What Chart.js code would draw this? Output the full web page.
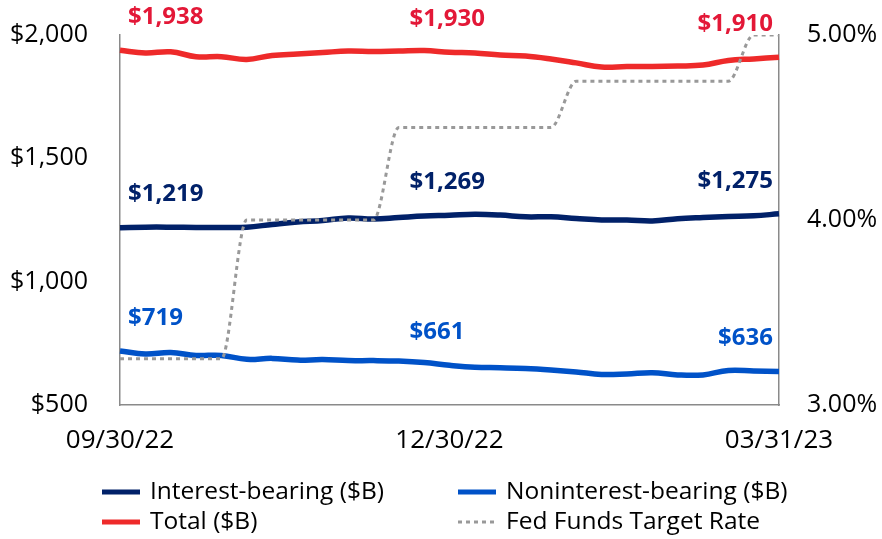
<!DOCTYPE html>
<html>
<head>
<meta charset="utf-8">
<script src="https://cdn.jsdelivr.net/npm/chart.js@4"></script>
<style>
    html, body { margin: 0; padding: 0; background: #fff; }
    #wrap { width: 882px; height: 539px; }
</style>
</head>
<body>
<div id="wrap"><canvas id="depositsChart" width="882" height="539"></canvas></div>
<script>
// Weekly observations, 09/30/22 - 03/31/23
const weeks = [
    '09/30/22', '10/07/22', '10/14/22', '10/21/22', '10/28/22', '11/04/22', '11/11/22',
    '11/18/22', '11/25/22', '12/02/22', '12/09/22', '12/16/22', '12/23/22', '12/30/22',
    '01/06/23', '01/13/23', '01/20/23', '01/27/23', '02/03/23', '02/10/23', '02/17/23',
    '02/24/23', '03/03/23', '03/10/23', '03/17/23', '03/24/23', '03/31/23'
];
const interestBearing = [
    1219, 1221, 1221, 1220, 1220, 1221, 1232, 1242, 1248, 1258, 1254, 1260, 1266, 1269,
    1273, 1270, 1263, 1263, 1256, 1250, 1250, 1246, 1255, 1260, 1264, 1267, 1275
];
const nonInterestBearing = [
    719, 707, 713, 701, 701, 685, 689, 682, 684, 680, 680, 678, 672, 661,
    653, 651, 648, 642, 634, 624, 626, 631, 622, 622, 640, 638, 636
];
const totalDeposits = [
    1938, 1927, 1932, 1912, 1912, 1901, 1917, 1923, 1929, 1935, 1933, 1935, 1937, 1930,
    1927, 1919, 1915, 1903, 1887, 1870, 1872, 1872, 1874, 1878, 1897, 1903, 1910
];
const fedFundsRate = [
    3.25, 3.25, 3.25, 3.25, 3.25, 4.00, 4.00, 4.00, 4.00, 4.00, 4.00, 4.50, 4.50, 4.50,
    4.50, 4.50, 4.50, 4.50, 4.75, 4.75, 4.75, 4.75, 4.75, 4.75, 4.75, 5.00, 5.00
];
const xTickLabels = ['09/30/22', '12/30/22', '03/31/23'];
const labelWeeks = [0, 13, 26];

const FONT = "'Open Sans', 'Noto Sans', sans-serif";

function formatDollars(v) {
    return '$' + new Intl.NumberFormat('en-US').format(v);
}

// Value labels above the first, middle and last points
const valueLabels = {
    id: 'valueLabels',
    afterDatasetsDraw(chart) {
        const ctx = chart.ctx;
        ctx.save();
        ctx.font = `bold 24px ${FONT}`;
        ctx.textBaseline = 'middle';
        chart.data.datasets.forEach((ds, di) => {
            if (!ds.labelColor) return;
            const meta = chart.getDatasetMeta(di);
            labelWeeks.forEach((idx, n) => {
                const pt = meta.data[idx];
                let x = pt.x;
                if (n === 0) { ctx.textAlign = 'left'; x += 8; }
                else if (n === 1) { ctx.textAlign = 'left'; x -= 40; }
                else { ctx.textAlign = 'right'; x -= 6; }
                ctx.fillStyle = ds.labelColor;
                ctx.fillText(formatDollars(ds.data[idx]), x, pt.y - 33);
            });
        });
        ctx.restore();
    }
};

// Two-column legend under the axis
const columnLegend = {
    id: 'columnLegend',
    afterDraw(chart) {
        const ctx = chart.ctx;
        const slots = [[102, 492], [458, 492], [102, 522], [458, 522]];
        const order = [1, 2, 3, 0];
        ctx.save();
        ctx.font = `24.5px ${FONT}`;
        ctx.textBaseline = 'middle';
        ctx.textAlign = 'left';
        order.forEach((di, n) => {
            const ds = chart.data.datasets[di];
            const [x, y] = slots[n];
            ctx.beginPath();
            ctx.strokeStyle = ds.borderColor;
            ctx.lineWidth = ds.borderDash ? 3 : 5;
            ctx.setLineDash(ds.borderDash || []);
            ctx.moveTo(x, y);
            ctx.lineTo(x + 38, y);
            ctx.stroke();
            ctx.setLineDash([]);
            ctx.fillStyle = '#000';
            ctx.fillText(ds.label, x + 48, y);
        });
        ctx.restore();
    }
};

// keep tick padding from pushing the plot area down
function fixAxis(width) {
    return scale => {
        scale.width = width;
        scale.paddingTop = 0;
        scale.paddingBottom = 0;
    };
}

const ctx = document.getElementById('depositsChart').getContext('2d');
new Chart(ctx, {
    type: 'line',
    data: {
        labels: weeks,
        datasets: [
            {
                label: 'Fed Funds Target Rate',
                data: fedFundsRate,
                yAxisID: 'y2',
                borderColor: '#999999',
                borderWidth: 3,
                borderDash: [4, 4],
                borderCapStyle: 'butt',
                cubicInterpolationMode: 'monotone',
                order: 0
            },
            {
                label: 'Interest-bearing ($B)',
                data: interestBearing,
                yAxisID: 'y',
                borderColor: '#012169',
                labelColor: '#012169',
                borderWidth: 5.5,
                tension: 0.4,
                order: 1
            },
            {
                label: 'Noninterest-bearing ($B)',
                data: nonInterestBearing,
                yAxisID: 'y',
                borderColor: '#0052C8',
                labelColor: '#0052C8',
                borderWidth: 5.5,
                tension: 0.4,
                order: 1
            },
            {
                label: 'Total ($B)',
                data: totalDeposits,
                yAxisID: 'y',
                borderColor: '#EE2A2A',
                labelColor: '#E31837',
                borderWidth: 5.5,
                tension: 0.4,
                order: 1
            }
        ]
    },
    options: {
        responsive: false,
        animation: false,
        layout: { padding: { top: 35, left: 0, right: 0, bottom: 0 } },
        elements: { point: { radius: 0 } },
        plugins: {
            legend: { display: false },
            tooltip: { enabled: false }
        },
        scales: {
            x: {
                type: 'category',
                offset: false,
                grid: { display: false, drawTicks: false },
                border: { display: true, color: '#8a8a8a', width: 1.5 },
                ticks: {
                    autoSkip: false,
                    maxRotation: 0,
                    padding: 20,
                    color: '#000',
                    font: { family: FONT, size: 26 },
                    callback: function (value) {
                        const lbl = this.getLabelForValue(value);
                        return xTickLabels.includes(lbl) ? lbl : '';
                    }
                },
                afterFit: scale => { scale.height = 134; }
            },
            y: {
                position: 'left',
                min: 500,
                max: 2000,
                grid: { display: false, drawTicks: false },
                border: { display: true, color: '#8a8a8a', width: 1.5 },
                ticks: {
                    stepSize: 500,
                    padding: 32,
                    color: '#000',
                    font: { family: FONT, size: 25 },
                    callback: v => formatDollars(v)
                },
                afterFit: fixAxis(120)
            },
            y2: {
                position: 'right',
                min: 3,
                max: 5,
                grid: { display: false, drawTicks: false },
                border: { display: true, color: '#8a8a8a', width: 1.5 },
                ticks: {
                    stepSize: 1,
                    padding: 28,
                    color: '#000',
                    font: { family: FONT, size: 25 },
                    callback: v => v.toFixed(2) + '%'
                },
                afterFit: fixAxis(103)
            }
        }
    },
    plugins: [valueLabels, columnLegend]
});
</script>
</body>
</html>
